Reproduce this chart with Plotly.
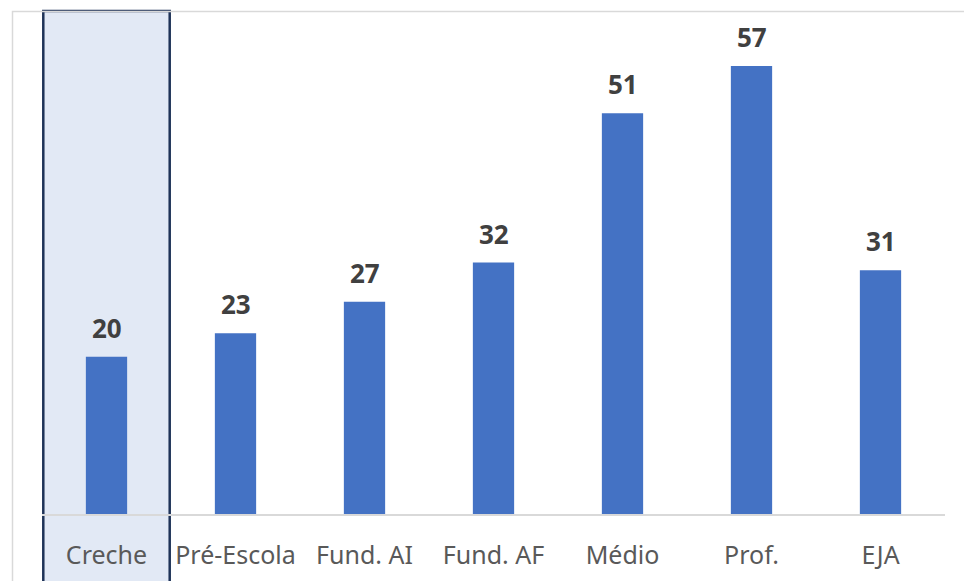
import plotly.graph_objects as go

# Categories and values
categories = ["Creche", "Pré-Escola", "Fund. AI", "Fund. AF", "Médio", "Prof.", "EJA"]
values = [20, 23, 27, 32, 51, 57, 31]
highlighted = "Creche"

W, H = 964, 581
L, R, T, B = 42, 19, 11, 67
plot_w = W - L - R
plot_h = H - T - B


def px_to_paper_x(px):
    return (px - L) / plot_w


def px_to_paper_y(py):
    return (H - B - py) / plot_h


fig = go.Figure()

fig.add_trace(go.Bar(
    x=categories,
    y=values,
    marker=dict(color="#4472C4", line=dict(width=0)),
    width=0.32,
    hoverinfo="x+y",
))

# Value labels above each bar
for cat, v in zip(categories, values):
    fig.add_annotation(
        x=cat, y=v, text=f"<b>{v}</b>", showarrow=False,
        yanchor="bottom", yshift=9,
        font=dict(family="Noto Sans", size=26, color="#404040"),
    )

# Highlight box around the selected category
idx = categories.index(highlighted)
fig.add_shape(
    type="rect", xref="x", yref="paper",
    x0=idx - 0.49, x1=idx + 0.49,
    y0=px_to_paper_y(H + 20), y1=1.0,
    fillcolor="#E2E9F5",
    line=dict(color="#1F3358", width=2.5),
    layer="below",
)

# Outer chart border (light gray)
fig.add_shape(
    type="rect", xref="paper", yref="paper",
    x0=px_to_paper_x(12.5), x1=px_to_paper_x(W + 20),
    y0=px_to_paper_y(H + 20), y1=px_to_paper_y(11.5),
    line=dict(color="#D9D9D9", width=1.5),
    fillcolor="rgba(0,0,0,0)",
    layer="below",
)

fig.update_layout(
    width=W, height=H,
    margin=dict(l=L, r=R, t=T, b=B),
    paper_bgcolor="white",
    plot_bgcolor="rgba(0,0,0,0)",
    showlegend=False,
    xaxis=dict(
        type="category",
        range=[-0.5, len(categories) - 0.5],
        showgrid=False,
        showline=True, linecolor="#D9D9D9", linewidth=1.5,
        ticks="",
        ticklabelstandoff=18,
        tickfont=dict(family="Noto Sans", size=25, color="#595959"),
        fixedrange=True,
    ),
    yaxis=dict(
        range=[0, 64],
        visible=False,
        fixedrange=True,
    ),
)

fig.write_html("out.html")
